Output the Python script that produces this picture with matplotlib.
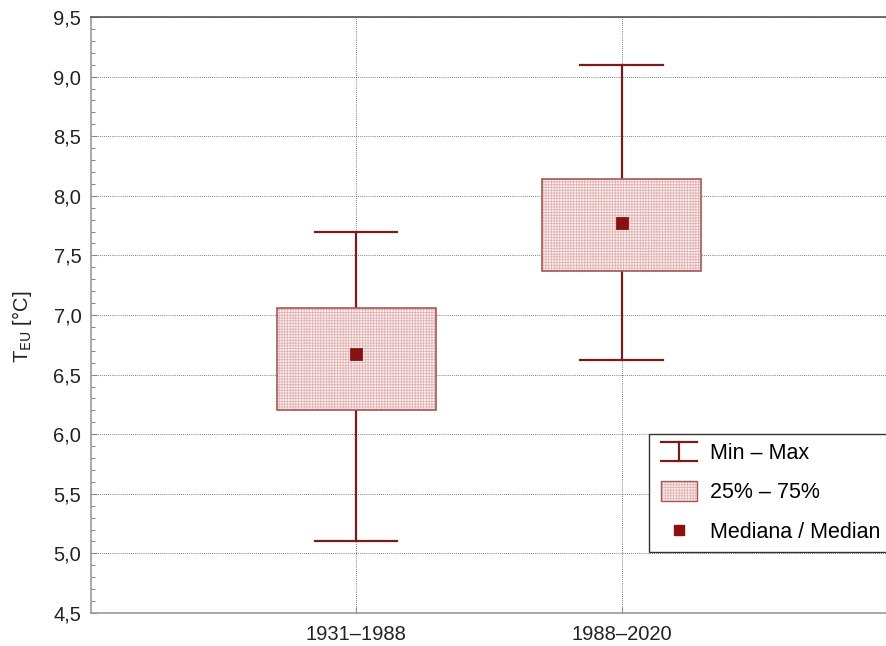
import matplotlib
matplotlib.use("Agg")
import matplotlib.pyplot as plt
from matplotlib.legend_handler import HandlerBase
from matplotlib.lines import Line2D
from matplotlib.patches import Rectangle
from matplotlib.ticker import MultipleLocator, FixedLocator

plt.rcParams['font.family'] = ['Liberation Sans', 'DejaVu Sans']
plt.rcParams['hatch.linewidth'] = 0.6

categories = ["1931\u20131988", "1988\u20132020"]
mins = [5.1, 6.62]
maxs = [7.7, 9.1]
q25 = [6.2, 7.37]
q75 = [7.06, 8.14]
medians = [6.67, 7.77]

dark = "#7a1c1c"
edge = "#a65858"
hatchc = "#e3b3b3"
medc = "#8b1111"

fig = plt.figure(figsize=(8.86, 6.46), dpi=100)
ax = fig.add_axes([0.1027, 0.0511, 0.8983, 0.9226])

positions = [1, 2]
box_w = 0.6
cap_w = 0.31
for x, lo, hi, a, b, m in zip(positions, mins, maxs, q25, q75, medians):
    ax.plot([x, x], [lo, a], color=dark, lw=1.6, zorder=3)
    ax.plot([x, x], [b, hi], color=dark, lw=1.6, zorder=3)
    ax.plot([x - cap_w / 2, x + cap_w / 2], [lo, lo], color=dark, lw=1.6, zorder=3)
    ax.plot([x - cap_w / 2, x + cap_w / 2], [hi, hi], color=dark, lw=1.6, zorder=3)
    ax.add_patch(Rectangle((x - box_w / 2, a), box_w, b - a, facecolor="#fbf1f1",
                           edgecolor=hatchc, hatch="++++++", lw=0, zorder=3))
    ax.add_patch(Rectangle((x - box_w / 2, a), box_w, b - a, facecolor="none",
                           edgecolor=edge, lw=1.2, zorder=4))
    ax.plot([x], [m], marker="s", ms=8, color=medc, mec="#6a0d0d", mew=0.5, zorder=5, ls="none")

ax.set_xlim(0, 3)
ax.set_ylim(4.5, 9.5)
ax.xaxis.set_major_locator(FixedLocator(positions))
ax.set_xticklabels(categories)
ax.yaxis.set_major_locator(MultipleLocator(0.5))
ax.yaxis.set_minor_locator(MultipleLocator(0.1))
ax.yaxis.set_major_formatter(matplotlib.ticker.FuncFormatter(lambda v, p: f"{v:.1f}".replace(".", ",")))
ax.tick_params(axis="both", which="both", direction="in", colors="#888888", labelcolor="#222222",
               labelsize=14.5)
ax.tick_params(axis="y", which="minor", length=3, width=0.8)
ax.tick_params(axis="y", which="major", length=4, width=0.8, pad=7)
ax.tick_params(axis="x", which="major", length=4, width=0.8, pad=9)
ax.grid(True, which="major", linestyle=(0, (1, 1.5)), color="#555555", lw=0.6)
for s in ax.spines.values():
    s.set_color("#999999")
    s.set_linewidth(1.2)
ax.spines["top"].set_color("#555555")
ax.set_ylabel(r"T$_{\mathrm{EU}}$ [°C]", fontsize=14.5, color="#222222")
ax.yaxis.set_label_coords(-0.072, 0.48)


class HandlerMinMax(HandlerBase):
    def create_artists(self, legend, orig_handle, xdescent, ydescent, width, height, fontsize, trans):
        cx = width / 2 - xdescent
        w = width * 0.85
        y0 = -ydescent - height * 0.15
        y1 = -ydescent + height * 1.15
        l1 = Line2D([cx - w / 2, cx + w / 2], [y0, y0], color=dark, lw=1.6)
        l2 = Line2D([cx - w / 2, cx + w / 2], [y1, y1], color=dark, lw=1.6)
        l3 = Line2D([cx, cx], [y0, y1], color=dark, lw=1.6)
        for a in (l1, l2, l3):
            a.set_transform(trans)
        return [l1, l2, l3]


class HandlerBox(HandlerBase):
    def create_artists(self, legend, orig_handle, xdescent, ydescent, width, height, fontsize, trans):
        w = width * 0.85
        x0 = width / 2 - xdescent - w / 2
        y0 = -ydescent - height * 0.15
        h = height * 1.3
        r1 = Rectangle((x0, y0), w, h, facecolor="#fbf1f1", edgecolor=hatchc, hatch="++++++", lw=0)
        r2 = Rectangle((x0, y0), w, h, facecolor="none", edgecolor=edge, lw=1.0)
        for r in (r1, r2):
            r.set_transform(trans)
        return [r1, r2]


h_minmax = Line2D([], [], color=dark)
h_box = Rectangle((0, 0), 1, 1)
h_med = Line2D([], [], marker="s", ms=7, color=medc, ls="none")
leg = ax.legend([h_minmax, h_box, h_med], ["Min \u2013 Max", "25% \u2013 75%", "Mediana / Median"],
                handler_map={h_minmax: HandlerMinMax(), h_box: HandlerBox()},
                loc="upper left", bbox_to_anchor=(0.7006, 0.3003), borderaxespad=0,
                fontsize=15.5, fancybox=False, framealpha=1, edgecolor="#333333",
                handlelength=2.0, handletextpad=0.45, labelspacing=0.85, borderpad=0.42)
leg.get_frame().set_linewidth(1.0)

fig.savefig("out.png", dpi=100)
